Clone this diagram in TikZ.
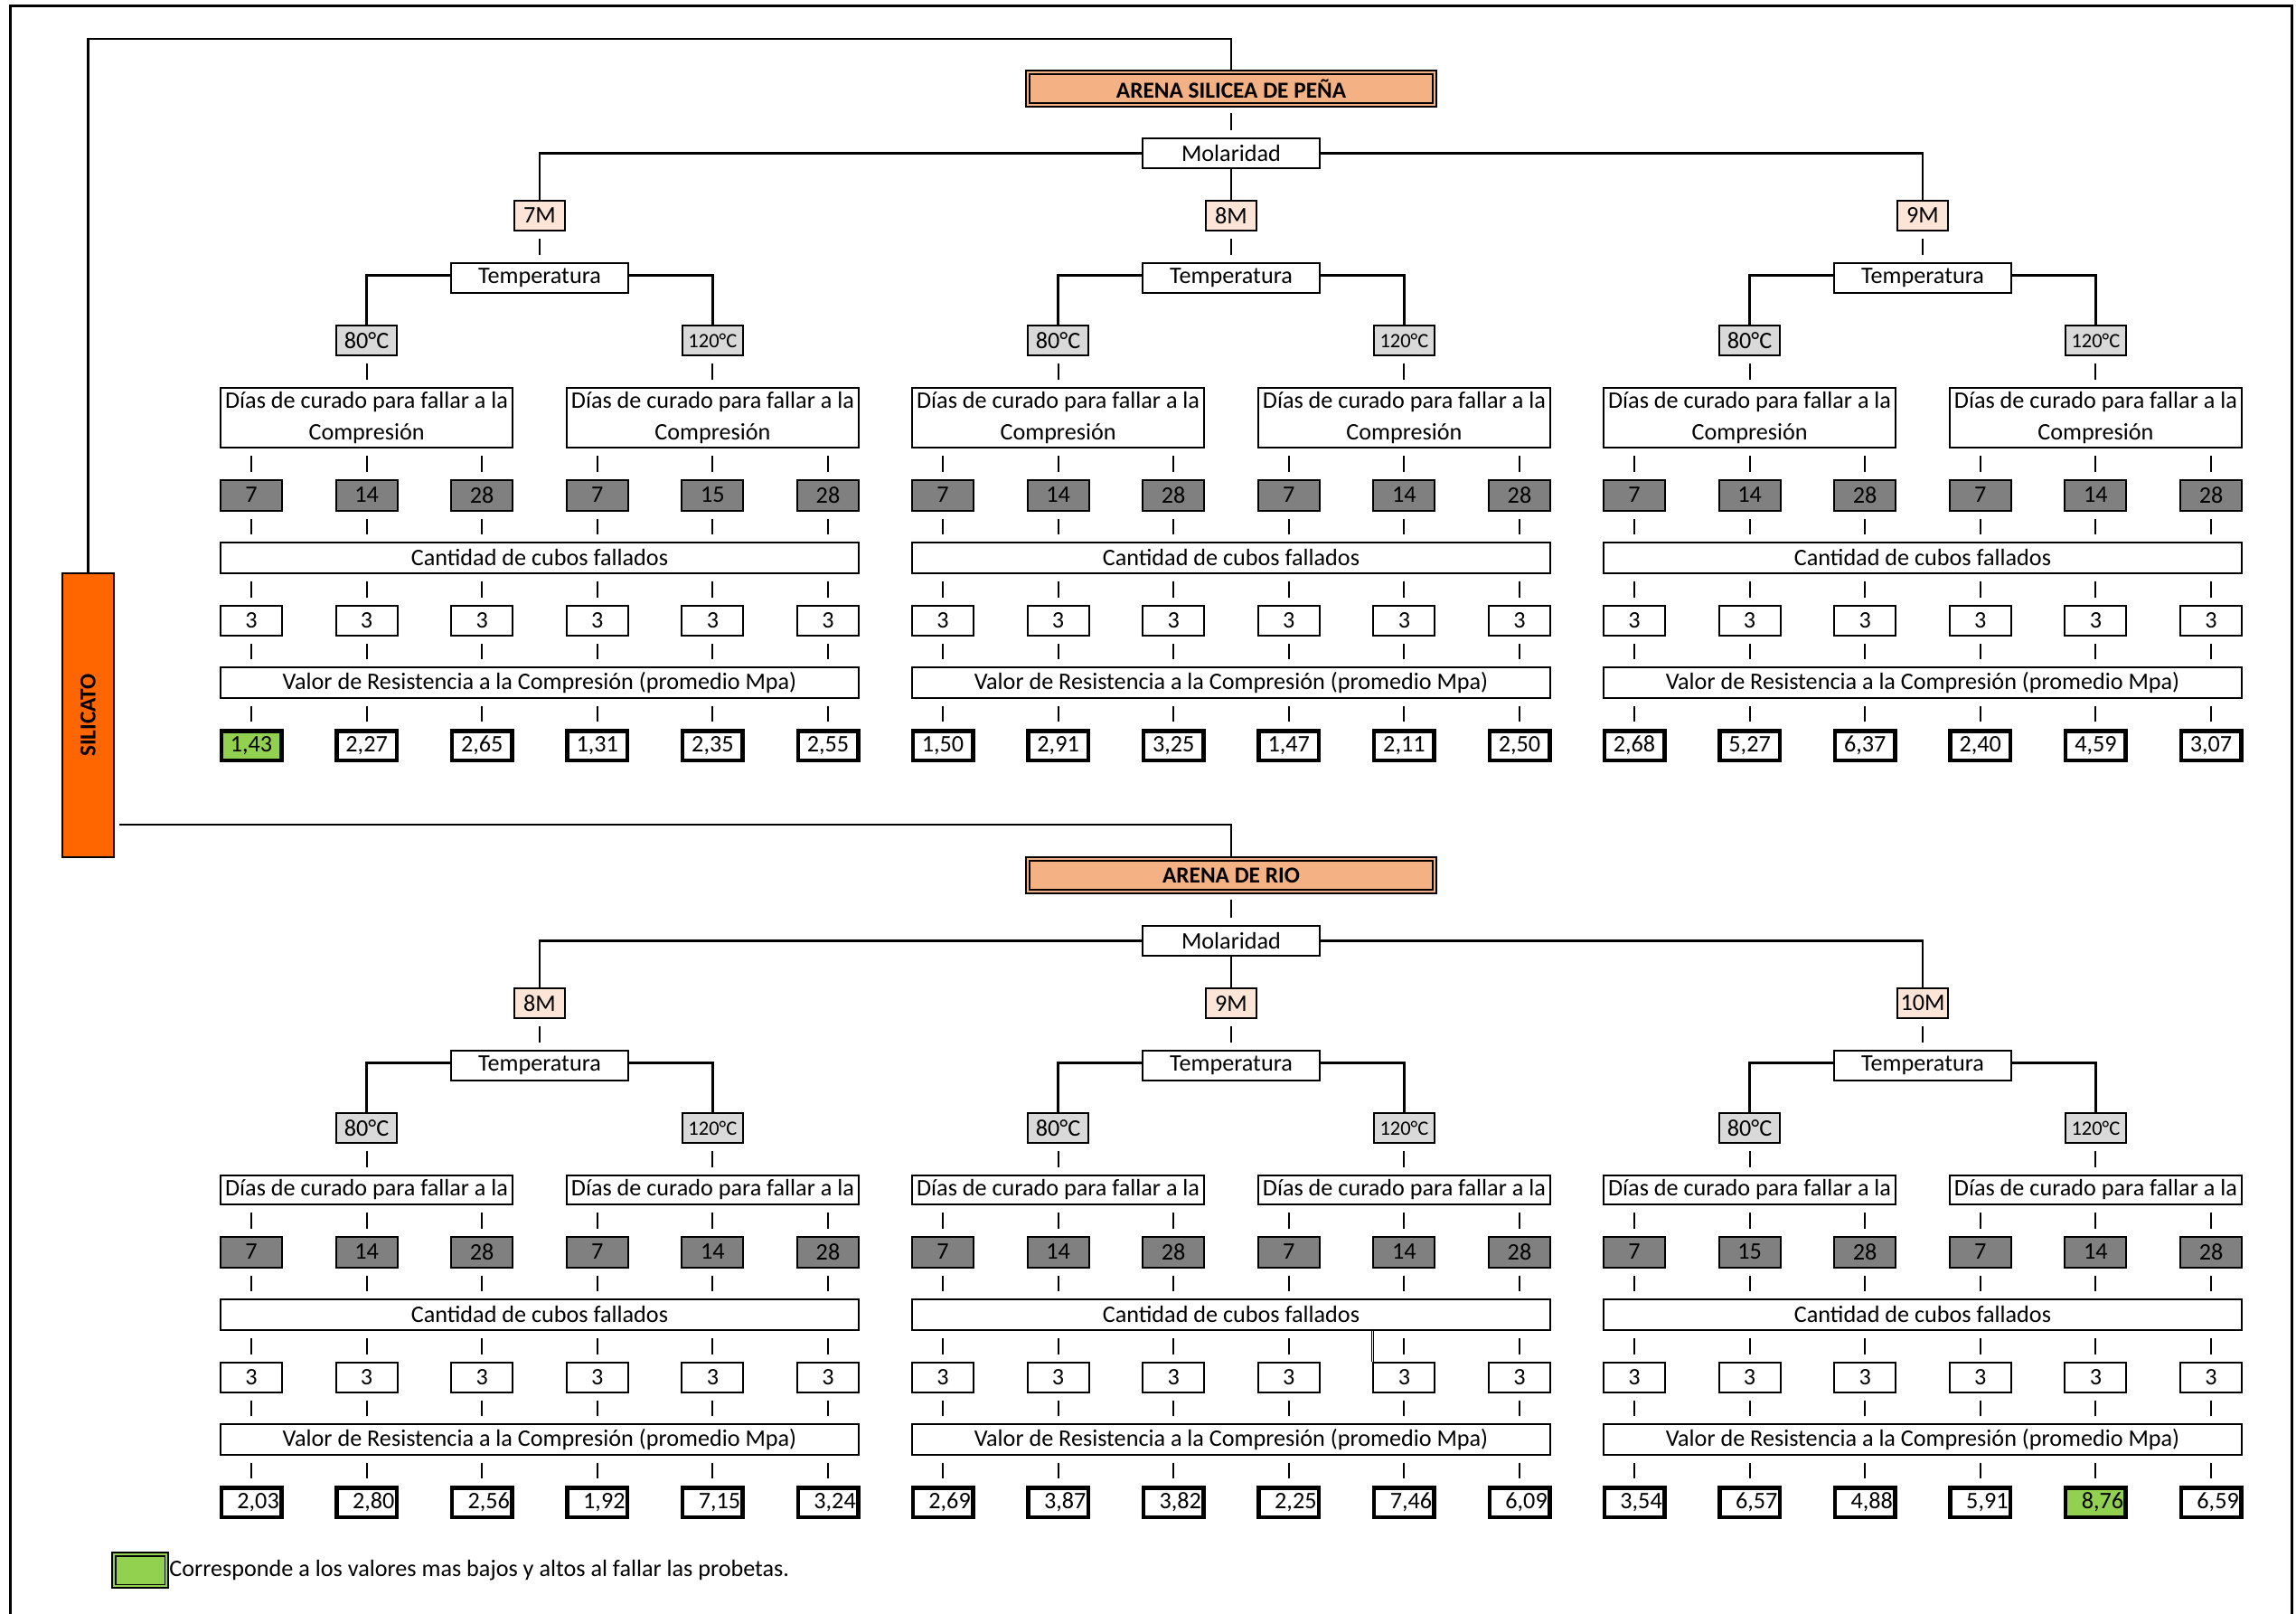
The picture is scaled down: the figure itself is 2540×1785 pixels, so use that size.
\documentclass[tikz,border=0pt]{standalone}
\usepackage{fontspec}
\setmainfont{Carlito}
\usetikzlibrary{positioning}

\definecolor{naranjaArena}{HTML}{F4B183}
\definecolor{naranjaSil}{HTML}{FF6600}
\definecolor{rosaMolar}{HTML}{FCE4D6}
\definecolor{grisTemp}{HTML}{D9D9D9}
\definecolor{grisDia}{HTML}{808080}
\definecolor{verdeLey}{HTML}{92D050}

\newcommand{\letra}{\fontsize{14.9}{19.4}\selectfont}
\newcommand{\letranegra}{\fontsize{14.4}{19.4}\selectfont\bfseries}
\newcommand{\letrachica}{\fontsize{12.8}{15}\selectfont}

\tikzset{
  caja/.style={draw, line width=0.4mm, fill=white, inner sep=0pt, minimum height=6.6mm, font=\letra},
  titulo/.style={caja, minimum width=39.2mm},
  cab/.style={caja, fill=naranjaArena, double=naranjaArena, double distance=0.45mm, line width=0.35mm, minimum width=90mm, minimum height=7.25mm, font=\letranegra},
  molar/.style={caja, fill=rosaMolar, minimum width=11.2mm},
  grado/.style={caja, fill=grisTemp, minimum width=13.4mm},
  dias/.style={caja, minimum width=64.6mm, align=center},
  dia/.style={caja, fill=grisDia, minimum width=13.6mm, minimum height=6.8mm},
  ancha/.style={caja, minimum width=141.2mm, minimum height=6.8mm},
  tres/.style={caja, minimum width=13.6mm},
  valor/.style={caja, line width=0.9mm, minimum width=13.3mm, minimum height=6.5mm},
  sil/.style={caja, fill=naranjaSil, minimum width=11.4mm, minimum height=62.8mm, font=\letranegra},
  ley/.style={caja, fill=verdeLey, double=verdeLey, double distance=0.4mm, line width=0.35mm, minimum width=11.7mm, minimum height=7.1mm},
  rama/.style={line width=0.45mm},
  palito/.style={line width=0.4mm, shorten <=1.6mm, shorten >=1.6mm}
}

% una rama: prefijo, x del centro, y de la molaridad, molaridad, dias, valores
\newcommand{\ramaMolar}[6]{
  \pgfmathsetmacro\yTemp{#3+69}
  \pgfmathsetmacro\yGrado{#3+138}
  \pgfmathsetmacro\yDias{#3+189.5+\altoDias/2}
  \pgfmathsetmacro\yDia{#3+241+\altoDias}
  \pgfmathsetmacro\yCant{\yDia+69}
  \pgfmathsetmacro\yTres{\yDia+138.5}
  \pgfmathsetmacro\yVal{\yDia+207.5}
  \pgfmathsetmacro\yValor{\yDia+277}
  \node[molar] (#1-m) at (#2,#3) {#4};
  \node[titulo] (#1-temp) at (#2,\yTemp) {Temperatura};
  \node[grado] (#1-ga) at (#2-191.4,\yGrado) {80°C};
  \node[grado, font=\letrachica] (#1-gb) at (#2+191.4,\yGrado) {120°C};
  \draw[palito] (#1-m) -- (#1-temp);
  \draw[rama] ([yshift=0.6mm]#1-temp.west) -| (#1-ga);
  \draw[rama] ([yshift=0.6mm]#1-temp.east) -| (#1-gb);
  \node[dias, minimum height=(\altoDias-2)*0.2mm] (#1-da) at (#2-191.4,\yDias) {\textoDias};
  \node[dias, minimum height=(\altoDias-2)*0.2mm] (#1-db) at (#2+191.4,\yDias) {\textoDias};
  \draw[palito] (#1-ga) -- (#1-da);
  \draw[palito] (#1-gb) -- (#1-db);
  \node[ancha] (#1-cant) at (#2,\yCant) {Cantidad de cubos fallados};
  \node[ancha] (#1-val) at (#2,\yVal) {Valor de Resistencia a la Compresión (promedio Mpa)};
  \foreach \dval [count=\col from 0] in {#5} {
    \pgfmathsetmacro\xc{#2+(\col-2.5)*127.6}
    \node[dia] (#1-d\col) at (\xc,\yDia) {\dval};
    \draw[palito] (#1-d\col |- #1-da.south) -- (#1-d\col);
    \draw[palito] (#1-d\col) -- (#1-d\col |- #1-cant.north);
    \node[tres] (#1-t\col) at (\xc,\yTres) {3};
    \draw[palito] (#1-cant.south -| #1-t\col) -- (#1-t\col);
    \draw[palito] (#1-t\col) -- (#1-t\col |- #1-val.north);
  }
  \foreach \rval/\relleno [count=\col from 0] in {#6} {
    \pgfmathsetmacro\xc{#2+(\col-2.5)*127.6}
    \node[valor, fill=\relleno] (#1-v\col) at (\xc,\yValor) {\rval};
    \draw[palito] (#1-val.south -| #1-v\col) -- (#1-v\col);
  }
}

\begin{document}
\begin{tikzpicture}[x=0.2mm, y=-0.2mm]
\useasboundingbox (0,0) rectangle (2540,1785);
\draw[line width=0.6mm] (11,1785) |- (2535,7) -- (2535,1785);

\node[sil] (sil) at (97.5,791) {\rotatebox{90}{SILICATO}};

% arena silicea de peña
\def\altoDias{68}
\def\textoDias{Días de curado para fallar a la\\Compresión}
\node[cab] (cabS) at (1362,98) {ARENA SILICEA DE PEÑA};
\node[titulo] (molS) at (1362,169.5) {Molaridad};
\draw[palito] (cabS) -- (molS);
\ramaMolar{s0}{597}{238.5}{7M}{7,14,28,7,15,28}{{1,43}/verdeLey,{2,27}/white,{2,65}/white,{1,31}/white,{2,35}/white,{2,55}/white}
\ramaMolar{s1}{1362}{238.5}{8M}{7,14,28,7,14,28}{{1,50}/white,{2,91}/white,{3,25}/white,{1,47}/white,{2,11}/white,{2,50}/white}
\ramaMolar{s2}{2127}{238.5}{9M}{7,14,28,7,14,28}{{2,68}/white,{5,27}/white,{6,37}/white,{2,40}/white,{4,59}/white,{3,07}/white}
\draw[rama] (molS.west) -| (s0-m);
\draw[rama] (molS) -- (s1-m);
\draw[rama] (molS.east) -| (s2-m);
\draw[rama] (sil.north) |- (cabS.north |- 0,43) -- (cabS.north);

% arena de rio
\def\altoDias{34}
\def\textoDias{Días de curado para fallar a la}
\tikzset{valor/.append style={text width=12.3mm, align=right}}
\node[cab] (cabR) at (1362,968) {ARENA DE RIO};
\node[titulo] (molR) at (1362,1040.5) {Molaridad};
\draw[palito] (cabR) -- (molR);
\ramaMolar{r0}{597}{1109.5}{8M}{7,14,28,7,14,28}{{2,03}/white,{2,80}/white,{2,56}/white,{1,92}/white,{7,15}/white,{3,24}/white}
\ramaMolar{r1}{1362}{1109.5}{9M}{7,14,28,7,14,28}{{2,69}/white,{3,87}/white,{3,82}/white,{2,25}/white,{7,46}/white,{6,09}/white}
\ramaMolar{r2}{2127}{1109.5}{10M}{7,15,28,7,14,28}{{3,54}/white,{6,57}/white,{4,88}/white,{5,91}/white,{8,76}/verdeLey,{6,59}/white}
\draw[rama] (molR.west) -| (r0-m);
\draw[rama] (molR) -- (r1-m);
\draw[rama] (molR.east) -| (r2-m);
\coordinate (silR) at (132,912);
\draw[rama] (silR) -| (cabR);
\draw[line width=0.2mm, double, double distance=0.3mm] (r1-cant.south -| r1-t4.north west) -- (r1-t4.north west);

% leyenda
\node[ley] (ley) at (155,1736.5) {};
\node[right=0.4mm of ley, font=\letra, inner sep=0pt] (leyT) {Corresponde a los valores mas bajos y altos al fallar las probetas.};
\end{tikzpicture}
\end{document}
